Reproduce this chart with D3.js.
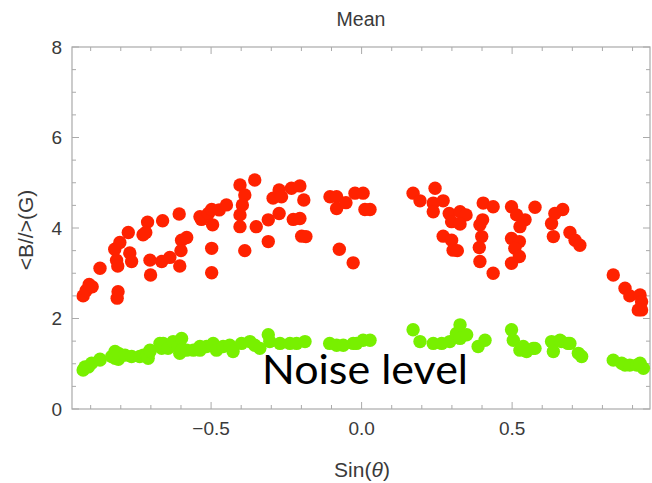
<!DOCTYPE html>
<html>
<head>
<meta charset="utf-8">
<script src="https://cdn.jsdelivr.net/npm/d3@7"></script>
<style>
  html, body { margin: 0; padding: 0; background: #fff; }
  svg { display: block; }
  text { font-family: "Liberation Sans", Arial, sans-serif; }
  text.note { font-family: Lato, "Open Sans", sans-serif; }
</style>
</head>
<body>
<svg id="chart" width="652" height="483"></svg>
<script>
// Mean longitudinal field versus Sin(theta)
const redPoints = [
  [-0.925, 2.50], [-0.915, 2.62], [-0.905, 2.75], [-0.895, 2.70],
  [-0.869, 3.11], [-0.814, 3.29], [-0.820, 3.53], [-0.803, 3.68], [-0.810, 3.16],
  [-0.809, 2.59], [-0.812, 2.45], [-0.775, 3.90], [-0.770, 3.45], [-0.764, 3.26],
  [-0.726, 3.85], [-0.711, 4.13], [-0.717, 3.90], [-0.703, 3.29], [-0.701, 2.96],
  [-0.664, 3.26], [-0.661, 4.16], [-0.637, 3.35], [-0.606, 4.31], [-0.598, 3.73],
  [-0.581, 3.79], [-0.600, 3.50], [-0.604, 3.16], [-0.537, 4.25], [-0.532, 4.19],
  [-0.509, 4.32], [-0.498, 4.41], [-0.473, 4.40], [-0.449, 4.51], [-0.495, 4.07],
  [-0.498, 3.55], [-0.498, 3.01], [-0.404, 4.95], [-0.388, 4.73], [-0.396, 4.51],
  [-0.404, 4.29], [-0.404, 4.03], [-0.388, 3.50], [-0.355, 5.06], [-0.350, 4.03],
  [-0.310, 4.18], [-0.310, 3.70], [-0.294, 4.66], [-0.274, 4.84], [-0.266, 4.69],
  [-0.274, 4.32], [-0.233, 4.88], [-0.205, 4.93], [-0.192, 4.62], [-0.227, 4.19],
  [-0.205, 4.21], [-0.199, 3.82], [-0.185, 3.81], [-0.105, 4.69], [-0.083, 4.69],
  [-0.083, 4.43], [-0.052, 4.56], [-0.022, 4.77], [0.005, 4.77], [0.011, 4.41],
  [0.028, 4.41], [-0.074, 3.53], [-0.028, 3.23],
  [0.171, 4.77], [0.194, 4.60], [0.244, 4.88], [0.238, 4.55], [0.238, 4.36],
  [0.271, 4.60], [0.291, 4.32], [0.327, 4.36], [0.347, 4.29], [0.299, 4.14],
  [0.327, 4.09], [0.271, 3.82], [0.299, 3.73], [0.304, 3.51], [0.318, 3.50],
  [0.404, 4.55], [0.437, 4.47], [0.402, 4.18], [0.393, 4.07], [0.399, 3.81],
  [0.391, 3.57], [0.393, 3.26], [0.437, 3.00], [0.498, 4.47], [0.515, 4.29],
  [0.543, 4.18], [0.526, 4.03], [0.576, 4.46], [0.498, 3.77], [0.524, 3.70],
  [0.509, 3.55], [0.524, 3.37], [0.498, 3.22], [0.642, 4.32], [0.668, 4.41],
  [0.631, 4.10], [0.637, 3.81], [0.692, 3.90], [0.709, 3.73], [0.725, 3.62],
  [0.836, 2.96], [0.875, 2.67], [0.891, 2.50], [0.925, 2.52], [0.930, 2.37],
  [0.930, 2.19], [0.919, 2.19]
];

const greenPoints = [
  [-0.925, 0.86], [-0.919, 0.93], [-0.908, 0.93], [-0.897, 1.01], [-0.869, 1.10],
  [-0.869, 1.08], [-0.830, 1.16], [-0.819, 1.27], [-0.819, 1.12], [-0.808, 1.10],
  [-0.808, 1.23], [-0.786, 1.19], [-0.764, 1.16], [-0.737, 1.16], [-0.725, 1.19],
  [-0.714, 1.19], [-0.709, 1.12], [-0.703, 1.27], [-0.703, 1.30], [-0.670, 1.45],
  [-0.664, 1.34], [-0.659, 1.45], [-0.643, 1.34], [-0.626, 1.49], [-0.609, 1.38],
  [-0.604, 1.23], [-0.598, 1.56], [-0.598, 1.30], [-0.581, 1.30], [-0.559, 1.30],
  [-0.537, 1.38], [-0.537, 1.30], [-0.515, 1.38], [-0.498, 1.41], [-0.493, 1.45],
  [-0.482, 1.30], [-0.460, 1.38], [-0.438, 1.41], [-0.427, 1.27], [-0.399, 1.45],
  [-0.371, 1.49], [-0.355, 1.41], [-0.338, 1.34], [-0.310, 1.64], [-0.305, 1.49],
  [-0.271, 1.45], [-0.238, 1.45], [-0.216, 1.45], [-0.188, 1.49], [-0.106, 1.45],
  [-0.083, 1.41], [-0.061, 1.41], [-0.028, 1.45], [-0.017, 1.45], [0.005, 1.52],
  [0.028, 1.52],
  [0.171, 1.75], [0.194, 1.49], [0.238, 1.45], [0.266, 1.45], [0.293, 1.49],
  [0.315, 1.67], [0.327, 1.86], [0.327, 1.56], [0.349, 1.64], [0.387, 1.38],
  [0.410, 1.52], [0.498, 1.75], [0.504, 1.52], [0.526, 1.30], [0.537, 1.38],
  [0.548, 1.27], [0.570, 1.34], [0.576, 1.34], [0.631, 1.49], [0.637, 1.27],
  [0.659, 1.52], [0.664, 1.49], [0.686, 1.45], [0.692, 1.45], [0.720, 1.23],
  [0.731, 1.16], [0.836, 1.08], [0.864, 1.01], [0.875, 0.97], [0.891, 0.97],
  [0.914, 0.97], [0.925, 1.01], [0.936, 0.90]
];

const xMajorTicks = [-0.5, 0.0, 0.5];
const xTickLabels = ["\u22120.5", "0.0", "0.5"];
const xMinorTicks = [-0.9, -0.8, -0.7, -0.6, -0.4, -0.3, -0.2, -0.1, 0.1, 0.2, 0.3, 0.4, 0.6, 0.7, 0.8, 0.9];
const yMajorTicks = [0, 2, 4, 6, 8];
const yMinorTicks = [0.5, 1, 1.5, 2.5, 3, 3.5, 4.5, 5, 5.5, 6.5, 7, 7.5];

const svg = d3.select("#chart");
const plotLeft = 72, plotRight = 650, plotTop = 47, plotBottom = 409;

const x = d3.scaleLinear().domain([-0.962, 0.958]).range([plotLeft, plotRight]);
const y = d3.scaleLinear().domain([0, 8]).range([plotBottom, plotTop]);

const frameColor = "#aaaaaa";
const labelColor = "#3a3a3a";
const majorLen = 7, minorLen = 4;

// Frame
svg.append("rect")
  .attr("x", plotLeft).attr("y", plotTop)
  .attr("width", plotRight - plotLeft).attr("height", plotBottom - plotTop)
  .attr("fill", "none").attr("stroke", frameColor).attr("stroke-width", 1.2);

// Ticks on all four sides, pointing inward
function hTicks(values, len) {
  const g = svg.append("g").attr("stroke", frameColor).attr("stroke-width", 1);
  values.forEach(v => {
    g.append("line").attr("x1", x(v)).attr("x2", x(v)).attr("y1", plotBottom).attr("y2", plotBottom - len);
    g.append("line").attr("x1", x(v)).attr("x2", x(v)).attr("y1", plotTop).attr("y2", plotTop + len);
  });
}
function vTicks(values, len) {
  const g = svg.append("g").attr("stroke", frameColor).attr("stroke-width", 1);
  values.forEach(v => {
    g.append("line").attr("x1", plotLeft).attr("x2", plotLeft + len).attr("y1", y(v)).attr("y2", y(v));
    g.append("line").attr("x1", plotRight).attr("x2", plotRight - len).attr("y1", y(v)).attr("y2", y(v));
  });
}
hTicks(xMajorTicks, majorLen);
hTicks(xMinorTicks, minorLen);
vTicks(yMajorTicks, majorLen);
vTicks(yMinorTicks, minorLen);

// Tick labels
svg.append("g").selectAll("text").data(xMajorTicks).join("text")
  .attr("x", d => x(d)).attr("y", 435)
  .attr("text-anchor", "middle")
  .style("font-size", "19px").attr("fill", labelColor)
  .text((d, i) => xTickLabels[i]);

svg.append("g").selectAll("text").data(yMajorTicks).join("text")
  .attr("x", 62).attr("y", d => y(d))
  .attr("dy", "0.36em")
  .attr("text-anchor", "end")
  .style("font-size", "19px").attr("fill", labelColor)
  .text(d => d);

// Points
const r = 6.7;
svg.append("g").selectAll("circle").data(greenPoints).join("circle")
  .attr("cx", d => x(d[0])).attr("cy", d => y(d[1])).attr("r", r)
  .attr("fill", "#78f000");

svg.append("g").selectAll("circle").data(redPoints).join("circle")
  .attr("cx", d => x(d[0])).attr("cy", d => y(d[1])).attr("r", r)
  .attr("fill", "#ff2200");

// Titles
svg.append("text")
  .attr("x", 361).attr("y", 26)
  .attr("text-anchor", "middle")
  .style("font-size", "19.5px").attr("fill", labelColor)
  .text("Mean");

const xl = svg.append("text")
  .attr("x", 362).attr("y", 477)
  .attr("text-anchor", "middle")
  .style("font-size", "21px").attr("fill", labelColor);
xl.append("tspan").text("Sin(");
xl.append("tspan").style("font-style", "italic").text("\u03b8");
xl.append("tspan").text(")");

svg.append("text")
  .attr("transform", "translate(33,230) rotate(-90)")
  .attr("text-anchor", "middle")
  .style("font-size", "21px").attr("fill", labelColor)
  .text("<B//>(G)");

// Annotation
svg.append("text")
  .attr("class", "note")
  .attr("x", 262).attr("y", 384)
  .attr("textLength", 206).attr("lengthAdjust", "spacingAndGlyphs")
  .style("font-size", "41px").attr("fill", "#000")
  .text("Noise level");
</script>
</body>
</html>
